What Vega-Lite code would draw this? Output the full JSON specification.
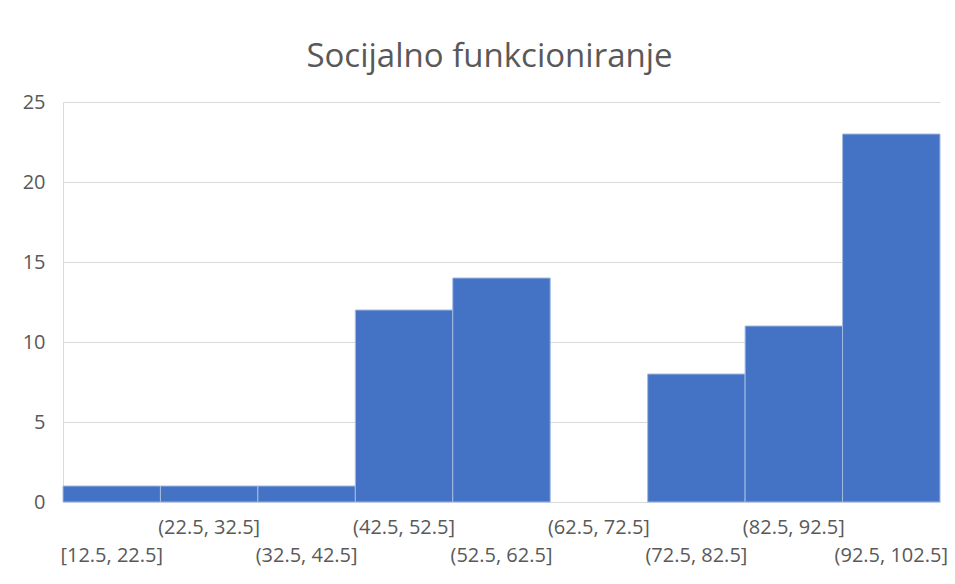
{
  "$schema": "https://vega.github.io/schema/vega-lite/v6.json",
  "width": 877,
  "height": 400,
  "autosize": "none",
  "padding": {"left": 63, "top": 102, "right": 15, "bottom": 82},
  "background": "#ffffff",
  "title": {
    "text": "Socijalno funkcioniranje",
    "font": "Open Sans",
    "fontSize": 33,
    "fontWeight": "normal",
    "color": "#595959",
    "anchor": "middle",
    "dx": -12,
    "offset": 18
  },
  "config": {
    "view": {"stroke": null},
    "font": "Open Sans"
  },
  "data": {
    "values": [
      {"bin": "[12.5, 22.5]", "count": 1},
      {"bin": "(22.5, 32.5]", "count": 1},
      {"bin": "(32.5, 42.5]", "count": 1},
      {"bin": "(42.5, 52.5]", "count": 12},
      {"bin": "(52.5, 62.5]", "count": 14},
      {"bin": "(62.5, 72.5]", "count": 0},
      {"bin": "(72.5, 82.5]", "count": 8},
      {"bin": "(82.5, 92.5]", "count": 11},
      {"bin": "(92.5, 102.5]", "count": 23}
    ]
  },
  "mark": {"type": "bar", "color": "#4472c4", "stroke": "#a3bae3", "strokeWidth": 1},
  "encoding": {
    "strokeOpacity": {
      "condition": {"test": "datum.count == 0", "value": 0},
      "value": 1
    },
    "x": {
      "field": "bin",
      "type": "ordinal",
      "sort": null,
      "scale": {"paddingInner": 0, "paddingOuter": 0},
      "axis": {
        "title": null,
        "labelAngle": 0,
        "labelOverlap": false,
        "labelFontSize": 20,
        "labelColor": "#595959",
        "labelPadding": 15,
        "labelLineHeight": 28,
        "labelBaseline": "top",
        "labelExpr": "indexof(['(22.5, 32.5]', '(42.5, 52.5]', '(62.5, 72.5]', '(82.5, 92.5]'], datum.value) >= 0 ? [datum.value] : ['', datum.value]",
        "ticks": false,
        "domain": true,
        "domainColor": "#d9d9d9",
        "grid": false
      }
    },
    "y": {
      "field": "count",
      "type": "quantitative",
      "scale": {"domain": [0, 25], "nice": false},
      "axis": {
        "title": null,
        "values": [0, 5, 10, 15, 20, 25],
        "labelFontSize": 20,
        "labelColor": "#595959",
        "labelPadding": 18,
        "ticks": false,
        "domain": true,
        "domainColor": "#d9d9d9",
        "gridColor": "#d9d9d9"
      }
    }
  }
}
